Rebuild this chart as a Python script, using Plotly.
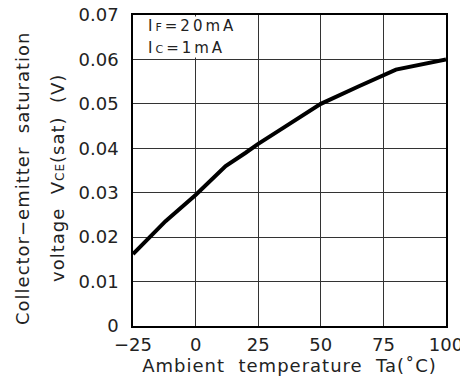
import plotly.graph_objects as go

temperature = [-25, -12, 0, 12, 20, 25, 35, 45, 50, 65, 80, 100]
vce_sat = [0.0162, 0.0236, 0.0295, 0.0360, 0.0390, 0.0410, 0.0446, 0.0481, 0.0500, 0.0539, 0.0577, 0.0600]

x_ticks = [-25, 0, 25, 50, 75, 100]
y_ticks = [0, 0.01, 0.02, 0.03, 0.04, 0.05, 0.06, 0.07]
y_tick_labels = ["0", "0.01", "0.02", "0.03", "0.04", "0.05", "0.06", "0.07"]

FONT = "DejaVu Sans"
TXT = "#222222"

fig = go.Figure()
fig.add_trace(go.Scatter(x=temperature, y=vce_sat, mode="lines",
                         line=dict(color="black", width=4), showlegend=False))

# the page body has an 8px default margin, so the figure is sized to fit the 468x385 window
fig.update_layout(
    width=460, height=377,
    margin=dict(l=125, r=22, t=7, b=59, autoexpand=False),
    paper_bgcolor="white", plot_bgcolor="white",
    font=dict(family=FONT, size=18, color=TXT),
    xaxis=dict(range=[-25, 100], tickvals=x_ticks, showgrid=True, automargin=False,
               gridcolor="#333333", gridwidth=1, showline=True, linecolor="black",
               linewidth=1.5, mirror=True, ticks="", zeroline=False,
               ticklabelstandoff=2, ticklabeloverflow="allow",
               tickfont=dict(family=FONT, size=18, color=TXT),
               title=dict(text="<span style='letter-spacing:1px'>Ambient  temperature  Ta(˚C)</span>",
                          standoff=0, font=dict(family=FONT, size=18, color=TXT))),
    yaxis=dict(range=[0, 0.07], tickvals=y_ticks, ticktext=y_tick_labels, showgrid=True,
               automargin=False,
               gridcolor="#333333", gridwidth=1, showline=True, linecolor="black",
               linewidth=1.5, mirror=True, ticks="", zeroline=False,
               ticklabelstandoff=9, ticklabeloverflow="allow",
               tickfont=dict(family=FONT, size=18, color=TXT)),
)

# white box hiding the grid behind the condition labels
fig.add_annotation(
    text="&nbsp;", xref="paper", yref="paper", x=0, y=1, xanchor="left", yanchor="top",
    xshift=1, yshift=-1, width=106, height=40, bgcolor="white", borderpad=0,
    showarrow=False, font=dict(family=FONT, size=15, color=TXT))

fig.add_annotation(
    text="<span style='letter-spacing:3px'>I<span style='font-size:11px'>F</span>=20mA</span>",
    xref="paper", yref="paper", x=0, y=(311 - 10.5) / 311, xanchor="left", yanchor="middle",
    xshift=13, showarrow=False, font=dict(family=FONT, size=15, color=TXT))
fig.add_annotation(
    text="<span style='letter-spacing:3px'>I<span style='font-size:11px'>C</span>=1mA</span>",
    xref="paper", yref="paper", x=0, y=(311 - 33) / 311, xanchor="left", yanchor="middle",
    xshift=13, showarrow=False, font=dict(family=FONT, size=15, color=TXT))

fig.add_annotation(text="<span style='letter-spacing:1px'>Collector−emitter  saturation</span>",
                   xref="paper", yref="paper",
                   x=0, y=(311 - 163) / 311, xanchor="center", yanchor="middle",
                   xshift=-111,
                   textangle=-90, showarrow=False, font=dict(family=FONT, size=18, color=TXT))
fig.add_annotation(text="<span style='letter-spacing:1px'>voltage  V<span style='font-size:12px'>CE</span>(sat)  (V)</span>",
                   xref="paper", yref="paper",
                   x=0, y=(311 - 163) / 311, xanchor="center", yanchor="middle",
                   xshift=-76,
                   textangle=-90, showarrow=False, font=dict(family=FONT, size=18, color=TXT))

fig.write_html("out.html")
